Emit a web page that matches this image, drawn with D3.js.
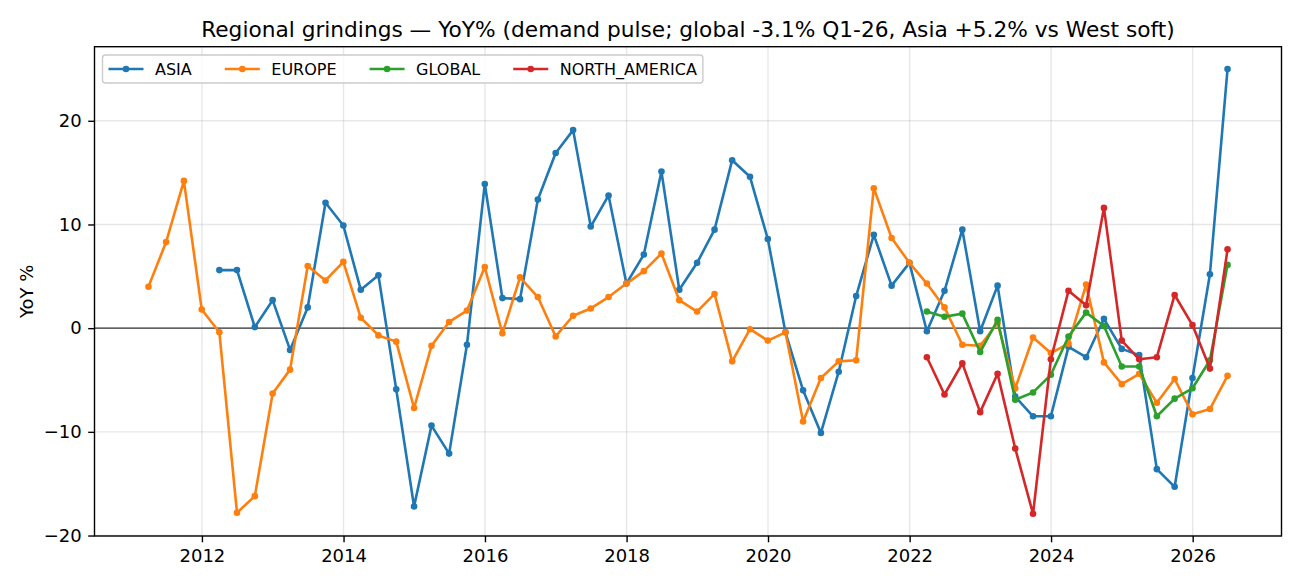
<!DOCTYPE html>
<html lang="en">
<head>
    <meta charset="UTF-8">
    <title>Regional grindings YoY</title>
    <script src="https://cdn.jsdelivr.net/npm/d3@7"></script>
    <style>
        body { margin: 0; background: #fff; }
        text { font-family: "DejaVu Sans", sans-serif; fill: #000; }
    </style>
</head>
<body>
<svg id="chart"></svg>

<script>
    // quarters (quarter-end dates)
    const quarters = [
        "2011Q1", "2011Q2", "2011Q3", "2011Q4",
        "2012Q1", "2012Q2", "2012Q3", "2012Q4",
        "2013Q1", "2013Q2", "2013Q3", "2013Q4",
        "2014Q1", "2014Q2", "2014Q3", "2014Q4",
        "2015Q1", "2015Q2", "2015Q3", "2015Q4",
        "2016Q1", "2016Q2", "2016Q3", "2016Q4",
        "2017Q1", "2017Q2", "2017Q3", "2017Q4",
        "2018Q1", "2018Q2", "2018Q3", "2018Q4",
        "2019Q1", "2019Q2", "2019Q3", "2019Q4",
        "2020Q1", "2020Q2", "2020Q3", "2020Q4",
        "2021Q1", "2021Q2", "2021Q3", "2021Q4",
        "2022Q1", "2022Q2", "2022Q3", "2022Q4",
        "2023Q1", "2023Q2", "2023Q3", "2023Q4",
        "2024Q1", "2024Q2", "2024Q3", "2024Q4",
        "2025Q1", "2025Q2", "2025Q3", "2025Q4",
        "2026Q1", "2026Q2"
    ];

    // YoY % by region, each starting at its own first quarter
    const asiaStart = "2012Q1";
    const asia = [
        5.6, 5.6, 0.1, 2.7,
        -2.1, 2.0, 12.1, 9.9,
        3.7, 5.1, -5.9, -17.2,
        -9.4, -12.1, -1.6, 13.9,
        2.9, 2.8, 12.4, 16.9,
        19.1, 9.8, 12.8, 4.3,
        7.1, 15.1, 3.7, 6.3,
        9.5, 16.2, 14.6, 8.6,
        -0.4, -6.0, -10.1, -4.2,
        3.1, 9.0, 4.1, 6.3,
        -0.3, 3.6, 9.5, -0.3,
        4.1, -6.6, -8.5, -8.5,
        -1.8, -2.8, 0.9, -2.0,
        -2.6, -13.6, -15.3, -4.8,
        5.2, 25.0
    ];

    const europeStart = "2011Q1";
    const europe = [
        4.0, 8.3, 14.2, 1.8,
        -0.4, -17.8, -16.2, -6.3,
        -4.0, 6.0, 4.6, 6.4,
        1.0, -0.7, -1.3, -7.7,
        -1.7, 0.6, 1.7, 5.9,
        -0.5, 4.9, 3.0, -0.8,
        1.2, 1.9, 3.0, 4.3,
        5.5, 7.2, 2.7, 1.6,
        3.3, -3.2, -0.1, -1.2,
        -0.4, -9.0, -4.8, -3.2,
        -3.1, 13.5, 8.7, 6.3,
        4.3, 2.0, -1.6, -1.7,
        0.5, -5.8, -0.9, -2.4,
        -1.5, 4.2, -3.3, -5.4,
        -4.4, -7.2, -4.9, -8.3,
        -7.8, -4.6
    ];

    const globalStart = "2022Q1";
    const globalYoY = [
        1.6, 1.1, 1.4, -2.3,
        0.8, -6.9, -6.2, -4.5,
        -0.8, 1.5, 0.2, -3.7,
        -3.7, -8.5, -6.8, -5.8,
        -3.1, 6.1
    ];

    const northAmericaStart = "2022Q1";
    const northAmerica = [
        -2.8, -6.4, -3.4, -8.1,
        -4.4, -11.6, -17.9, -3.0,
        3.6, 2.2, 11.6, -1.2,
        -3.0, -2.8, 3.2, 0.3,
        -3.9, 7.6
    ];

    const seriesNames = ["ASIA", "EUROPE", "GLOBAL", "NORTH_AMERICA"];
    const seriesStarts = [asiaStart, europeStart, globalStart, northAmericaStart];
    const seriesValues = [asia, europe, globalYoY, northAmerica];
    const colors = ["#1f77b4", "#ff7f0e", "#2ca02c", "#d62728"];
    const yTicks = [-20, -10, 0, 10, 20];

    function quarterEnd(q) {
        const y = +q.slice(0, 4), n = +q.slice(5);
        return new Date(y, n * 3, 0);
    }

    const series = seriesNames.map(function (name, i) {
        const off = quarters.indexOf(seriesStarts[i]);
        return {
            name: name,
            color: colors[i],
            points: seriesValues[i].map(function (v, j) {
                return {date: quarterEnd(quarters[off + j]), value: v};
            })
        };
    });

    const W = 1300, H = 585;
    const margin = {top: 46.7, right: 18.5, bottom: 49, left: 94.5};
    const svg = d3.select("#chart").attr("width", W).attr("height", H);

    // matplotlib-like 5% padding on both axes
    const allPts = series.flatMap(s => s.points);
    const tExt = d3.extent(allPts, d => +d.date);
    const vExt = d3.extent(allPts, d => d.value);
    const tPad = (tExt[1] - tExt[0]) * 0.05, vPad = (vExt[1] - vExt[0]) * 0.05;

    const x = d3.scaleTime()
        .domain([new Date(tExt[0] - tPad), new Date(tExt[1] + tPad)])
        .range([margin.left, W - margin.right]);
    const y = d3.scaleLinear()
        .domain([vExt[0] - vPad, vExt[1] + vPad])
        .range([H - margin.bottom, margin.top]);

    const xTicks = x.ticks(d3.timeYear.every(2));

    // grid
    const grid = svg.append("g").attr("class", "grid");
    grid.selectAll(".gx").data(xTicks).enter().append("line")
        .attr("x1", d => x(d)).attr("x2", d => x(d))
        .attr("y1", margin.top).attr("y2", H - margin.bottom)
        .attr("stroke", "#b0b0b0").attr("stroke-opacity", 0.3).attr("stroke-width", 1.4);
    grid.selectAll(".gy").data(yTicks).enter().append("line")
        .attr("x1", margin.left).attr("x2", W - margin.right)
        .attr("y1", d => y(d)).attr("y2", d => y(d))
        .attr("stroke", "#b0b0b0").attr("stroke-opacity", 0.3).attr("stroke-width", 1.4);

    // zero line
    svg.append("line")
        .attr("x1", margin.left).attr("x2", W - margin.right)
        .attr("y1", y(0)).attr("y2", y(0))
        .attr("stroke", "#333").attr("stroke-width", 1.1);

    // series
    const line = d3.line().x(d => x(d.date)).y(d => y(d.value));
    series.forEach(function (s) {
        const g = svg.append("g").attr("class", "series");
        g.append("path").datum(s.points)
            .attr("d", line)
            .attr("fill", "none")
            .attr("stroke", s.color)
            .attr("stroke-width", 2.6)
            .attr("stroke-linejoin", "round")
            .attr("stroke-linecap", "square");
        g.selectAll("circle").data(s.points).enter().append("circle")
            .attr("cx", d => x(d.date)).attr("cy", d => y(d.value))
            .attr("r", 3.3).attr("fill", s.color);
    });

    // axes
    const xAxis = svg.append("g")
        .attr("transform", "translate(0," + (H - margin.bottom) + ")")
        .call(d3.axisBottom(x).tickValues(xTicks).tickFormat(d3.timeFormat("%Y")).tickSize(6.3).tickPadding(6.5));
    const yAxis = svg.append("g")
        .attr("transform", "translate(" + margin.left + ",0)")
        .call(d3.axisLeft(y).tickValues(yTicks).tickFormat(d => d < 0 ? "\u2212" + Math.abs(d) : d).tickSize(6.3).tickPadding(6.5));
    [xAxis, yAxis].forEach(function (a) {
        a.select(".domain").remove();
        a.selectAll(".tick line").attr("stroke", "#000").attr("stroke-width", 1.4);
        a.selectAll(".tick text").attr("font-size", "18px").attr("font-family", "DejaVu Sans").attr("fill", "#000");
    });

    // frame
    svg.append("rect")
        .attr("x", margin.left).attr("y", margin.top)
        .attr("width", W - margin.left - margin.right)
        .attr("height", H - margin.top - margin.bottom)
        .attr("fill", "none").attr("stroke", "#000").attr("stroke-width", 1.4);

    // title and y label
    svg.append("text")
        .attr("x", (margin.left + W - margin.right) / 2).attr("y", 36.5)
        .attr("text-anchor", "middle").attr("font-size", "21.7px")
        .text("Regional grindings \u2014 YoY% (demand pulse; global -3.1% Q1-26, Asia +5.2% vs West soft)");
    svg.append("text")
        .attr("transform", "translate(32.5," + ((margin.top + H - margin.bottom) / 2) + ") rotate(-90)")
        .attr("text-anchor", "middle").attr("font-size", "18px")
        .text("YoY %");

    // legend
    const lg = svg.append("g").attr("class", "legend");
    const box = lg.append("rect")
        .attr("x", 102.5).attr("y", 55).attr("height", 28).attr("rx", 3)
        .attr("fill", "#fff").attr("fill-opacity", 0.8)
        .attr("stroke", "#cccccc").attr("stroke-width", 1.4);
    let lx = 108.5;
    series.forEach(function (s) {
        lg.append("line")
            .attr("x1", lx).attr("x2", lx + 35).attr("y1", 69).attr("y2", 69)
            .attr("stroke", s.color).attr("stroke-width", 2.6);
        lg.append("circle").attr("cx", lx + 17.5).attr("cy", 69).attr("r", 3.3).attr("fill", s.color);
        const t = lg.append("text")
            .attr("x", lx + 46.5).attr("y", 74.8)
            .attr("font-size", "16px")
            .text(s.name);
        lx = lx + 46.5 + t.node().getComputedTextLength() + 33;
    });
    box.attr("width", lx - 33 + 6 - 102.5);
</script>
</body>
</html>
